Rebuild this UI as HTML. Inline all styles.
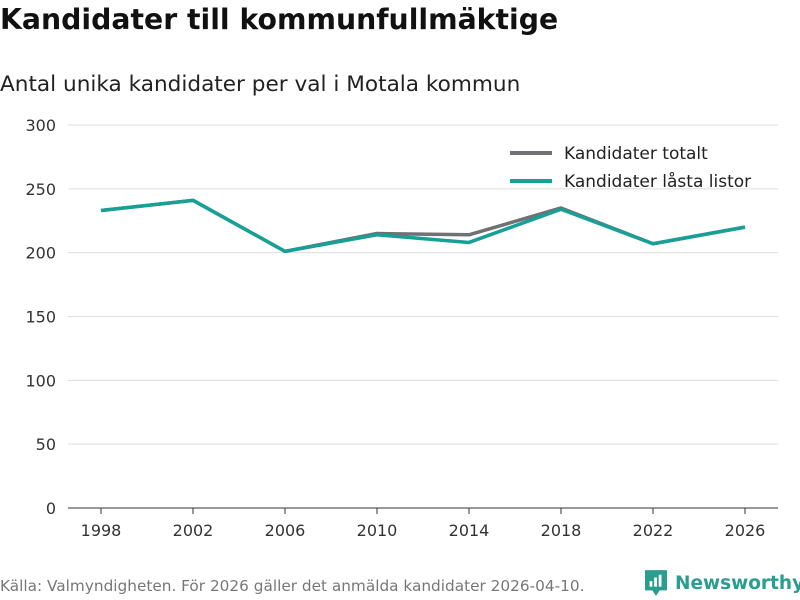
<!DOCTYPE html>
<html><head><meta charset="utf-8"><style>
body{margin:0;width:800px;height:600px;background:#fff;font-family:"DejaVu Sans","Liberation Sans",sans-serif;overflow:hidden;position:relative}
#title{position:absolute;left:0;top:3px;font-size:28.3px;font-weight:bold;color:#111;margin:0}
#subtitle{position:absolute;left:0;top:72px;font-size:21.6px;color:#222}
#source{position:absolute;left:0;top:577px;font-size:15.3px;color:#777}
#logo{position:absolute;left:645px;top:569px;font-size:18.5px;font-weight:bold;color:#2a9d8f;display:flex;align-items:center;gap:8px}
svg{position:absolute;left:0;top:0}
</style></head><body>
<h1 id="title">Kandidater till kommunfullmäktige</h1>
<div id="subtitle">Antal unika kandidater per val i Motala kommun</div>
<svg id="chart" width="800" height="600"></svg>
<div id="source">Källa: Valmyndigheten. För 2026 gäller det anmälda kandidater 2026-04-10.</div>
<div id="logo"><svg width="22" height="28" viewBox="0 0 24 28" style="position:static"><path d="M0 0h24v22h-8l-4 6-4-6H0z" fill="#2a9d8f"/><rect x="5" y="12" width="3" height="6" fill="#fff"/><rect x="10" y="8" width="3" height="10" fill="#fff"/><rect x="15" y="5" width="3" height="13" fill="#fff"/></svg><span>Newsworthy</span></div>
<script>
const years=[1998,2002,2006,2010,2014,2018,2022,2026];
const totalt=[233,241,201,215,214,235,207,220];
const lasta=[233,241,201,214,208,234,207,220];
const yTicks=[0,50,100,150,200,250,300];
const NS="http://www.w3.org/2000/svg";
const svg=document.getElementById('chart');
const x=v=>101+(v-1998)/28*644;
const y=v=>508-v/300*383;
function el(t,a,p){const e=document.createElementNS(NS,t);for(const k in a)e.setAttribute(k,a[k]);(p||svg).appendChild(e);return e;}
yTicks.forEach(t=>{
  const l=el('line',{x1:68,x2:778,y1:y(t),y2:y(t),stroke:t===0?'#333':'#ddd','stroke-width':1});
  
  
  const tx=el('text',{x:56,y:y(t)+6,'text-anchor':'end','font-size':16,fill:'#333'});
  tx.textContent=t;
  
  
});
years.forEach(yr=>{
  const tk=el('line',{x1:x(yr),x2:x(yr),y1:508,y2:514,stroke:'#333'});
  
  
  const tx=el('text',{x:x(yr),y:536,'text-anchor':'middle','font-size':16,fill:'#333'});
  tx.textContent=yr;
  
  
});
function line(vals,color,name){
  const p=el('polyline',{points:vals.map((v,i)=>x(years[i])+','+y(v)).join(' '),fill:'none',stroke:color,'stroke-width':3.5,'stroke-linejoin':'round'});
  
  
}
line(totalt,'#707075','series-kandidater-totalt');
line(lasta,'#16a096','series-kandidater-lasta-listor');
[['Kandidater totalt','#707075',153],['Kandidater låsta listor','#16a096',181]].forEach(([t,c,yy])=>{
  const g=el('g',{});
  
  
  el('line',{x1:510,x2:552,y1:yy,y2:yy,stroke:c,'stroke-width':4},g);
  const tx=el('text',{x:564,y:yy+6,'font-size':17,fill:'#222'},g);tx.textContent=t;
});
</script>
</body></html>
